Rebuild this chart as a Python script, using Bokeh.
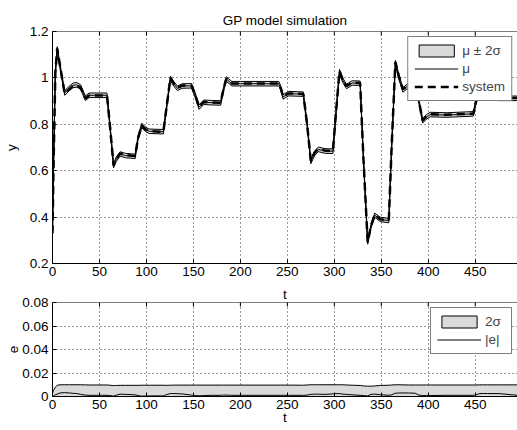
import numpy as np
from bokeh.plotting import figure
from bokeh.layouts import column
from bokeh.models import (FixedTicker, CustomJSTickFormatter, Range1d, Legend,
                          LegendItem, Span)
from bokeh.embed import file_html
from bokeh.resources import INLINE

# ---------------- data ----------------
t = [0, 1, 3, 5, 8, 13, 18, 22, 26, 30, 35, 39, 45, 58, 61, 65, 68, 72, 78, 88,
     91, 95, 99, 103, 118, 121, 125.5, 129, 133, 138, 148, 152, 156, 161, 170, 179,
     182, 185, 188, 191, 200, 241, 243, 245.5, 251, 267, 271, 275, 279, 283, 290,
     298.5, 302, 305.5, 309, 313, 319, 327.5, 331, 335.5, 339, 343, 349, 358, 361,
     365, 369, 373, 379, 386, 390, 394, 398, 402, 420, 448, 451, 455, 459, 463, 475, 495]

y_mu = [0.33, 0.60, 1.02, 1.125, 1.05, 0.935, 0.955, 0.968, 0.970, 0.960, 0.912, 0.925,
        0.925, 0.925, 0.80, 0.622, 0.650, 0.672, 0.665, 0.662, 0.740, 0.795, 0.778, 0.770,
        0.768, 0.860, 0.998, 0.975, 0.955, 0.965, 0.966, 0.925, 0.874, 0.895, 0.893, 0.892,
        0.950, 0.995, 0.985, 0.975, 0.975, 0.975, 0.955, 0.918, 0.932, 0.930, 0.800, 0.640,
        0.675, 0.692, 0.685, 0.684, 0.860, 1.027, 0.990, 0.963, 0.978, 0.977, 0.650, 0.292,
        0.360, 0.408, 0.390, 0.385, 0.700, 1.065, 1.000, 0.948, 0.968, 0.965, 0.900, 0.815,
        0.832, 0.842, 0.840, 0.845, 0.900, 0.955, 0.935, 0.915, 0.912, 0.912]

y_system = [0.33, 0.60, 1.02, 1.127, 1.053, 0.932, 0.952, 0.966, 0.968, 0.958, 0.911, 0.924,
            0.924, 0.924, 0.80, 0.622, 0.651, 0.674, 0.667, 0.663, 0.740, 0.795, 0.778, 0.770,
            0.768, 0.861, 1.000, 0.977, 0.957, 0.967, 0.967, 0.925, 0.875, 0.896, 0.894, 0.893,
            0.951, 0.996, 0.986, 0.976, 0.976, 0.976, 0.956, 0.919, 0.933, 0.931, 0.801, 0.642,
            0.677, 0.694, 0.687, 0.686, 0.862, 1.029, 0.992, 0.965, 0.979, 0.978, 0.651, 0.292,
            0.362, 0.410, 0.391, 0.386, 0.701, 1.068, 1.003, 0.951, 0.971, 0.968, 0.901, 0.816,
            0.833, 0.843, 0.841, 0.846, 0.901, 0.957, 0.937, 0.917, 0.914, 0.913]

two_sigma = [0.003, 0.005, 0.008, 0.0095, 0.0100, 0.0100, 0.0100, 0.0100, 0.0100, 0.0100,
             0.0099, 0.0098, 0.0098, 0.0098, 0.0096, 0.0093, 0.0094, 0.0095, 0.0095, 0.0095,
             0.0095, 0.0096, 0.0096, 0.0096, 0.0096, 0.0095, 0.0096, 0.0097, 0.0097, 0.0097,
             0.0097, 0.0097, 0.0097, 0.0097, 0.0097, 0.0097, 0.0097, 0.0097, 0.0097, 0.0097,
             0.0097, 0.0097, 0.0097, 0.0097, 0.0097, 0.0096, 0.0098, 0.0100, 0.0100, 0.0100,
             0.0100, 0.0100, 0.0100, 0.0100, 0.0100, 0.0098, 0.0096, 0.0094, 0.0090, 0.0088,
             0.0088, 0.0090, 0.0094, 0.0096, 0.0098, 0.0100, 0.0100, 0.0099, 0.0098, 0.0098,
             0.0098, 0.0098, 0.0098, 0.0098, 0.0098, 0.0098, 0.0098, 0.0099, 0.0099, 0.0099,
             0.0099, 0.0099]

e_abs = [0.0, 0.0005, 0.0015, 0.0020, 0.0030, 0.0033, 0.0030, 0.0027, 0.0025, 0.0018,
         0.0012, 0.0010, 0.0010, 0.0010, 0.0008, 0.0003, 0.0012, 0.0020, 0.0018, 0.0014,
         0.0008, 0.0003, 0.0004, 0.0005, 0.0005, 0.0015, 0.0025, 0.0025, 0.0024, 0.0022,
         0.0012, 0.0008, 0.0006, 0.0008, 0.0010, 0.0010, 0.0012, 0.0012, 0.0011, 0.0010,
         0.0010, 0.0010, 0.0010, 0.0010, 0.0010, 0.0010, 0.0012, 0.0018, 0.0020, 0.0020,
         0.0018, 0.0022, 0.0025, 0.0025, 0.0020, 0.0018, 0.0014, 0.0010, 0.0008, 0.0005,
         0.0018, 0.0020, 0.0015, 0.0010, 0.0015, 0.0028, 0.0030, 0.0030, 0.0030, 0.0028,
         0.0012, 0.0008, 0.0008, 0.0008, 0.0010, 0.0010, 0.0015, 0.0025, 0.0026, 0.0025,
         0.0025, 0.0010]

x_ticks = [0, 50, 100, 150, 200, 250, 300, 350, 400, 450]
y_ticks = [0.2, 0.4, 0.6, 0.8, 1.0, 1.2]
e_ticks = [0, 0.02, 0.04, 0.06, 0.08]

title_text = "GP model simulation"
x_label = "t"

# ---------------- styling ----------------
FONT = "Liberation Sans"
FS = "13.5px"
BAND = "#dadada"
X_END = 495

tt = np.array(t, dtype=float)
mu = np.array(y_mu)
ts = np.array(two_sigma)
band_x = np.concatenate([tt, tt[::-1]])
band_y = np.concatenate([mu + ts, (mu - ts)[::-1]])
sig_x = np.concatenate([tt, [tt[-1], tt[0]]])
sig_y = np.concatenate([ts, [0.0, 0.0]])

fmt = CustomJSTickFormatter(code="return String(Math.round(tick*1000)/1000);")


def style_title(title, text, standoff):
    title.text = text
    title.align = "center"
    title.text_font = FONT
    title.text_font_size = FS
    title.text_font_style = "normal"
    title.text_color = "black"
    title.standoff = standoff


def style(p, yticks, ylabel, y_top, ylabel_standoff):
    p.outline_line_color = None
    for ax in p.xaxis + p.yaxis:
        ax.axis_line_color = "black"
        ax.major_tick_line_color = "black"
        ax.major_tick_in = 4
        ax.major_tick_out = 0
        ax.minor_tick_line_color = None
        ax.major_label_text_font = FONT
        ax.major_label_text_font_size = FS
        ax.major_label_text_color = "black"
        ax.axis_label_text_font = FONT
        ax.axis_label_text_font_size = FS
        ax.axis_label_text_font_style = "normal"
        ax.axis_label_text_color = "black"
    p.xaxis.ticker = FixedTicker(ticks=x_ticks)
    p.yaxis.ticker = FixedTicker(ticks=yticks)
    p.yaxis.formatter = fmt
    p.yaxis.axis_label = ylabel
    p.xaxis.major_label_standoff = 3
    p.yaxis.major_label_standoff = 4
    p.yaxis.axis_label_standoff = ylabel_standoff
    p.xgrid.ticker = FixedTicker(ticks=x_ticks)
    p.ygrid.ticker = FixedTicker(ticks=yticks)
    for g in (p.xgrid, p.ygrid):
        g.grid_line_color = "black"
        g.grid_line_alpha = 0.8
        g.grid_line_dash = "1 3"
        g.grid_line_width = 1
    # top border of the box, with inward ticks
    p.add_layout(Span(location=y_top, dimension="width", line_color="black", line_width=1))
    p.scatter(x_ticks, [y_top] * len(x_ticks), marker="dash", angle=np.pi / 2, size=8,
              line_color="black", line_width=1)


def legend(p, items):
    lg = Legend(items=items, location="top_right")
    lg.border_line_color = "black"
    lg.border_line_width = 1
    lg.background_fill_color = "white"
    lg.background_fill_alpha = 1
    lg.label_text_font = FONT
    lg.label_text_font_size = FS
    lg.glyph_width = 44
    lg.glyph_height = 15
    lg.label_height = 15
    lg.spacing = 3
    lg.padding = 6
    lg.margin = 5
    lg.label_standoff = 4
    p.add_layout(lg, "center")


# ---------------- top figure ----------------
p1 = figure(width=517, height=283, x_range=Range1d(0, X_END), y_range=Range1d(0.2, 1.2),
            output_backend="svg", toolbar_location=None,
            min_border_left=52, min_border_right=0, min_border_top=31, min_border_bottom=20)
style_title(p1.title, title_text, 8)
style(p1, y_ticks, "y", 1.2, 8)

band = p1.patch(band_x, band_y, fill_color=BAND, line_color="black", line_width=1)
mu_line = p1.line(t, y_mu, line_color="black", line_width=1)
sys_line = p1.line(t, y_system, line_color="black", line_width=2.5, line_dash="8 5")
legend(p1, [LegendItem(label="μ ± 2σ", renderers=[band]),
            LegendItem(label="μ", renderers=[mu_line]),
            LegendItem(label="system", renderers=[sys_line])])

# ---------------- bottom figure ----------------
p2 = figure(width=517, height=147, x_range=Range1d(0, X_END), y_range=Range1d(0, 0.08),
            output_backend="svg", toolbar_location=None,
            min_border_left=52, min_border_right=0, min_border_top=17, min_border_bottom=34)
# the upper panel's x-axis label, placed in the gap between the two panels
style_title(p2.title, x_label, 2)
style(p2, e_ticks, "e", 0.08, 1)
p2.xaxis.axis_label = x_label
p2.xaxis.axis_label_standoff = -2
sig = p2.patch(sig_x, sig_y, fill_color=BAND, line_color="black", line_width=1)
e_line = p2.line(t, e_abs, line_color="black", line_width=1)
legend(p2, [LegendItem(label="2σ", renderers=[sig]),
            LegendItem(label="|e|", renderers=[e_line])])

layout = column(p1, p2, spacing=0)
open("out.html", "w").write(file_html(layout, INLINE))
